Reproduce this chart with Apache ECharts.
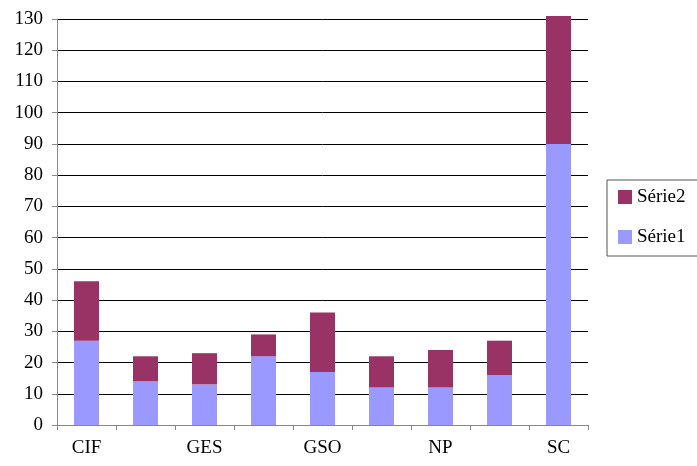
<!DOCTYPE html>
<html>
<head>
<meta charset="utf-8">
<script src="https://cdn.jsdelivr.net/npm/echarts@6/dist/echarts.min.js"></script>
<style>html,body{margin:0;padding:0;background:#fff;}#c{width:697px;height:466px;}</style>
</head>
<body>
<div id="c"></div>
<script>
var categories = ["CIF", "CN", "GES", "GM", "GSO", "LR", "NP", "PE", "SC"];
var serie1 = [27, 14, 13, 22, 17, 12, 12, 16, 90];
var serie2 = [19, 8, 10, 7, 19, 10, 12, 11, 41];
var yTicks = {min: 0, max: 130, interval: 10};

var font = "'Liberation Serif', 'Times New Roman', 'DejaVu Serif', serif";
var chart = echarts.init(document.getElementById('c'), null, {renderer: 'canvas'});
chart.setOption({
  animation: false,
  backgroundColor: '#fff',
  textStyle: {fontFamily: font},
  grid: {left: 57, right: 109, top: 19, bottom: 41, containLabel: false},
  legend: {
    orient: 'vertical',
    left: 607, top: 180,
    data: ['Série2', 'Série1'],
    icon: 'rect',
    itemWidth: 14, itemHeight: 14,
    itemGap: 20,
    padding: [7, 60, 9, 11],
    borderColor: '#555', borderWidth: 1,
    textStyle: {fontFamily: font, fontSize: 19, color: '#000', lineHeight: 20}
  },
  xAxis: {
    type: 'category',
    data: categories,
    axisLine: {lineStyle: {color: '#888', width: 1}},
    axisTick: {show: true, interval: 0, length: 5, lineStyle: {color: '#888'}},
    axisLabel: {interval: 1, margin: 14, fontFamily: font, fontSize: 19, color: '#000'}
  },
  yAxis: {
    type: 'value',
    min: yTicks.min, max: yTicks.max, interval: yTicks.interval,
    axisLine: {show: true, lineStyle: {color: '#888', width: 1}},
    axisTick: {show: true, length: 5, lineStyle: {color: '#888'}},
    axisLabel: {margin: 14, fontFamily: font, fontSize: 19, color: '#000'},
    splitLine: {show: true, lineStyle: {color: '#000', width: 1}}
  },
  series: [
    {name: 'Série1', type: 'bar', stack: 's', data: serie1, barWidth: 25, clip: false,
     itemStyle: {color: '#9999FF'}},
    {name: 'Série2', type: 'bar', stack: 's', data: serie2, barWidth: 25, clip: false,
     itemStyle: {color: '#993366'}}
  ]
});
</script>
</body>
</html>
